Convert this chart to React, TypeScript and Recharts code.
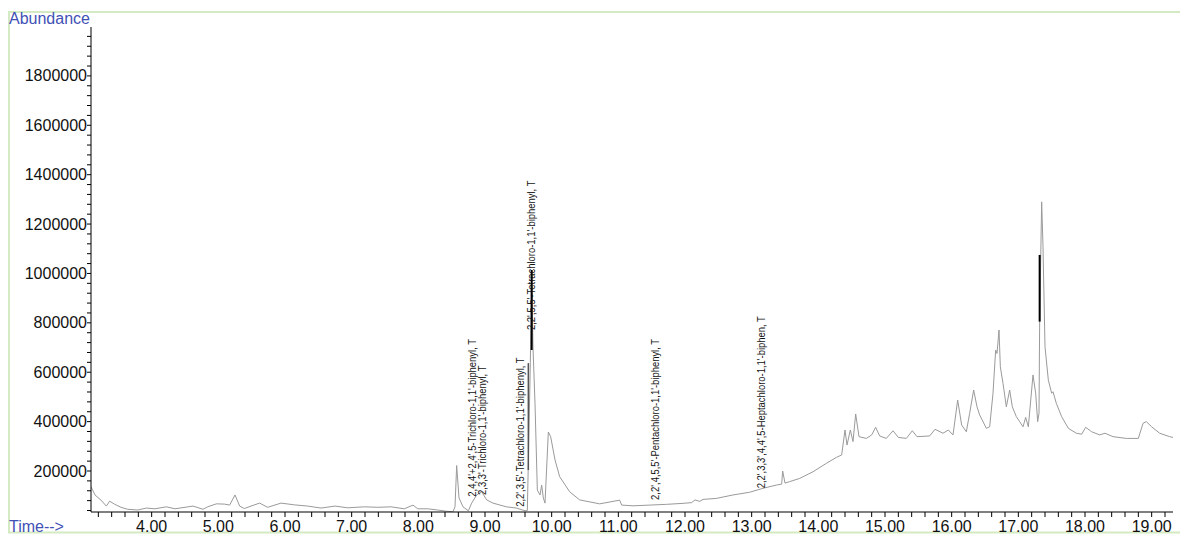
import React from 'react';
import { LineChart, Line, XAxis, YAxis, ReferenceLine } from 'recharts';

// TIC trace: retention time (min) and abundance
const TIME_MIN = [
  3.09, 3.15, 3.24, 3.32, 3.37, 3.44, 3.54, 3.64, 3.79, 3.92,
  4.05, 4.22, 4.35, 4.5, 4.62, 4.77, 4.84, 4.97, 5.09, 5.17,
  5.25, 5.32, 5.39, 5.49, 5.62, 5.74, 5.94, 6.14, 6.34, 6.54,
  6.75, 6.94, 7.19, 7.39, 7.59, 7.79, 7.92, 7.99, 8.14, 8.29,
  8.42, 8.52, 8.55, 8.575, 8.61, 8.67, 8.75, 8.8, 8.875, 8.95,
  9.025, 9.12, 9.32, 9.47, 9.6, 9.635, 9.655, 9.68, 9.7, 9.72,
  9.75, 9.785, 9.825, 9.85, 9.875, 9.9, 9.95, 9.985, 10.05, 10.12,
  10.27, 10.42, 10.72, 11.02, 11.05, 11.22, 11.47, 11.72, 11.97, 12.1,
  12.15, 12.22, 12.27, 12.47, 12.72, 12.97, 13.17, 13.37, 13.45, 13.465,
  13.5, 13.57, 13.72, 13.92, 14.12, 14.27, 14.35, 14.4, 14.43, 14.48,
  14.52, 14.56, 14.61, 14.72, 14.8, 14.86, 14.92, 15.02, 15.12, 15.2,
  15.32, 15.41, 15.48, 15.67, 15.75, 15.87, 15.95, 16.02, 16.09, 16.15,
  16.22, 16.27, 16.33, 16.38, 16.42, 16.52, 16.57, 16.62, 16.66, 16.68,
  16.71, 16.73, 16.77, 16.82, 16.87, 16.91, 16.97, 17.02, 17.07, 17.11,
  17.15, 17.22, 17.26, 17.29, 17.31, 17.32, 17.35, 17.37, 17.4, 17.45,
  17.5, 17.52, 17.57, 17.65, 17.75, 17.87, 17.95, 18.01, 18.1, 18.22,
  18.3, 18.42, 18.62, 18.8, 18.87, 18.92, 19.0, 19.12, 19.27, 19.32,
];

const ABUNDANCE = [
  136000, 103000, 82000, 58000, 78000, 66000, 53000, 45000, 42000, 50000,
  47000, 55000, 47000, 53000, 58000, 45000, 55000, 67000, 66000, 62000,
  103000, 58000, 48000, 58000, 70000, 53000, 70000, 63000, 58000, 50000,
  58000, 51000, 55000, 53000, 55000, 47000, 62000, 47000, 47000, 42000,
  37000, 35000, 55000, 222000, 91000, 55000, 39000, 70000, 103000, 116000,
  83000, 70000, 55000, 50000, 39000, 40000, 300000, 640000, 1012000, 700000,
  474000, 123000, 103000, 143000, 91000, 70000, 358000, 339000, 245000, 177000,
  116000, 83000, 67000, 82000, 62000, 59000, 62000, 65000, 69000, 72000,
  83000, 77000, 85000, 89000, 103000, 114000, 130000, 143000, 147000, 200000,
  151000, 157000, 170000, 197000, 231000, 255000, 265000, 366000, 305000, 366000,
  319000, 431000, 339000, 332000, 346000, 377000, 342000, 332000, 363000, 336000,
  332000, 363000, 339000, 342000, 369000, 353000, 366000, 346000, 487000, 386000,
  359000, 434000, 528000, 460000, 427000, 373000, 379000, 515000, 690000, 676000,
  771000, 622000, 555000, 460000, 528000, 460000, 420000, 400000, 379000, 417000,
  379000, 589000, 515000, 400000, 434000, 811000, 1290000, 1108000, 703000, 568000,
  515000, 521000, 474000, 420000, 373000, 353000, 349000, 377000, 359000, 346000,
  353000, 339000, 332000, 332000, 393000, 400000, 379000, 353000, 339000, 336000,
];

// identified peaks: name, retention time, abundance at the foot of the label
const PEAK_NAMES = [
  "2,4,4'+2,4',5-Trichloro-1,1'-biphenyl, T",
  "2,3,3'-Trichloro-1,1'-biphenyl, T",
  "2,2',3,5'-Tetrachloro-1,1'-biphenyl, T",
  "2,2',5,5'-Tetrachloro-1,1'-biphenyl, T",
  "2,2',4,5,5'-Pentachloro-1,1'-biphenyl, T",
  "2,2',3,3',4,4',5-Heptachloro-1,1'-biphen, T",
];
const PEAK_TIMES = [8.81, 8.96, 9.535, 9.7, 11.56, 13.15];
const PEAK_LABEL_AT = [96000, 103000, 55000, 771000, 83000, 130000];

// integration markers drawn over the trace
const MARK_TIMES = [9.65, 9.7, 17.32];
const MARK_FROM = [204000, 690000, 805000];
const MARK_TO = [637000, 1014000, 1075000];
const MARK_COLORS = ['#555555', '#000000', '#000000'];

const X_TICKS = Array.from({ length: 81 }, (_, i) => Math.round((3.2 + i * 0.2) * 10) / 10);
const Y_TICKS = Array.from({ length: 49 }, (_, i) => (i + 1) * 40000);

const FONT = '"Liberation Sans", Arial, sans-serif';
const BLUE = '#3f51b5';

const trace = TIME_MIN.map((t, i) => ({ t, abundance: ABUNDANCE[i] }));
const peaks = PEAK_TIMES.map((t, i) => ({ t, at: PEAK_LABEL_AT[i] }));

const XTick = ({ x, y, payload }: any) => {
  const v = payload.value;
  if (Math.abs(v - Math.round(v)) > 1e-6) return null;
  return (
    <text x={x} y={y} dy={15} textAnchor="middle" fontSize={16} fontFamily={FONT} fill="#111">
      {v.toFixed(2)}
    </text>
  );
};

const YTick = ({ x, y, payload }: any) => {
  const v = payload.value;
  if (v % 200000 !== 0) return null;
  return (
    <text x={x} y={y} textAnchor="end" dominantBaseline="central" fontSize={16} fontFamily={FONT} fill="#111">
      {v}
    </text>
  );
};

// vertical compound name, reading upward from the peak, slightly condensed
const PeakLabel = ({ cx, cy, index }: any) => {
  if (cx == null || cy == null) return null;
  return (
    <text
      key={`peak-${index}`}
      x={0}
      y={0}
      transform={`translate(${cx} ${cy}) rotate(-90) scale(0.9 1)`}
      textAnchor="start"
      dominantBaseline="central"
      fontSize={10.5}
      fontFamily={FONT}
      fill="#111"
    >
      {PEAK_NAMES[index]}
    </text>
  );
};

export default function App() {
  return (
    <div style={{ position: 'relative', width: 1180, height: 534 }}>
      <style>{'body{margin:0;overflow:hidden}'}</style>
      <svg width={1180} height={534} style={{ position: 'absolute', left: 0, top: 0 }}>
        <path d="M1180 12 H9 V532.5 H1180" fill="none" stroke="#d3eac3" strokeWidth={2} />
        <text x={9} y={24} fontSize={16} fontFamily={FONT} fill={BLUE}>Abundance</text>
        <text x={9} y={532} fontSize={16} fontFamily={FONT} fill={BLUE}>Time--&gt;</text>
      </svg>
      <div style={{ position: 'absolute', left: 0, top: 0 }}>
        <LineChart width={1180} height={534} margin={{ top: 27, right: 7, bottom: 0, left: 0 }}>
          <XAxis
            type="number"
            dataKey="t"
            domain={[3.09, 19.32]}
            allowDataOverflow
            ticks={X_TICKS}
            interval={0}
            tickSize={5}
            tickMargin={0}
            height={22}
            stroke="#000"
            tick={<XTick />}
          />
          <YAxis
            type="number"
            domain={[34000, 1998000]}
            allowDataOverflow
            ticks={Y_TICKS}
            interval={0}
            tickSize={4}
            tickMargin={0}
            width={91}
            stroke="#000"
            tick={<YTick />}
          />
          <Line
            data={trace}
            dataKey="abundance"
            type="linear"
            stroke="#9a9a9a"
            strokeWidth={1}
            dot={false}
            activeDot={false}
            isAnimationActive={false}
          />
          {MARK_TIMES.map((t, i) => (
            <ReferenceLine
              key={`mark-${i}`}
              segment={[{ x: t, y: MARK_FROM[i] }, { x: t, y: MARK_TO[i] }]}
              stroke={MARK_COLORS[i]}
              strokeWidth={i === 0 ? 1.5 : 2}
              ifOverflow="visible"
            />
          ))}
          <Line
            data={peaks}
            dataKey="at"
            stroke="none"
            dot={<PeakLabel />}
            activeDot={false}
            isAnimationActive={false}
          />
        </LineChart>
      </div>
    </div>
  );
}
